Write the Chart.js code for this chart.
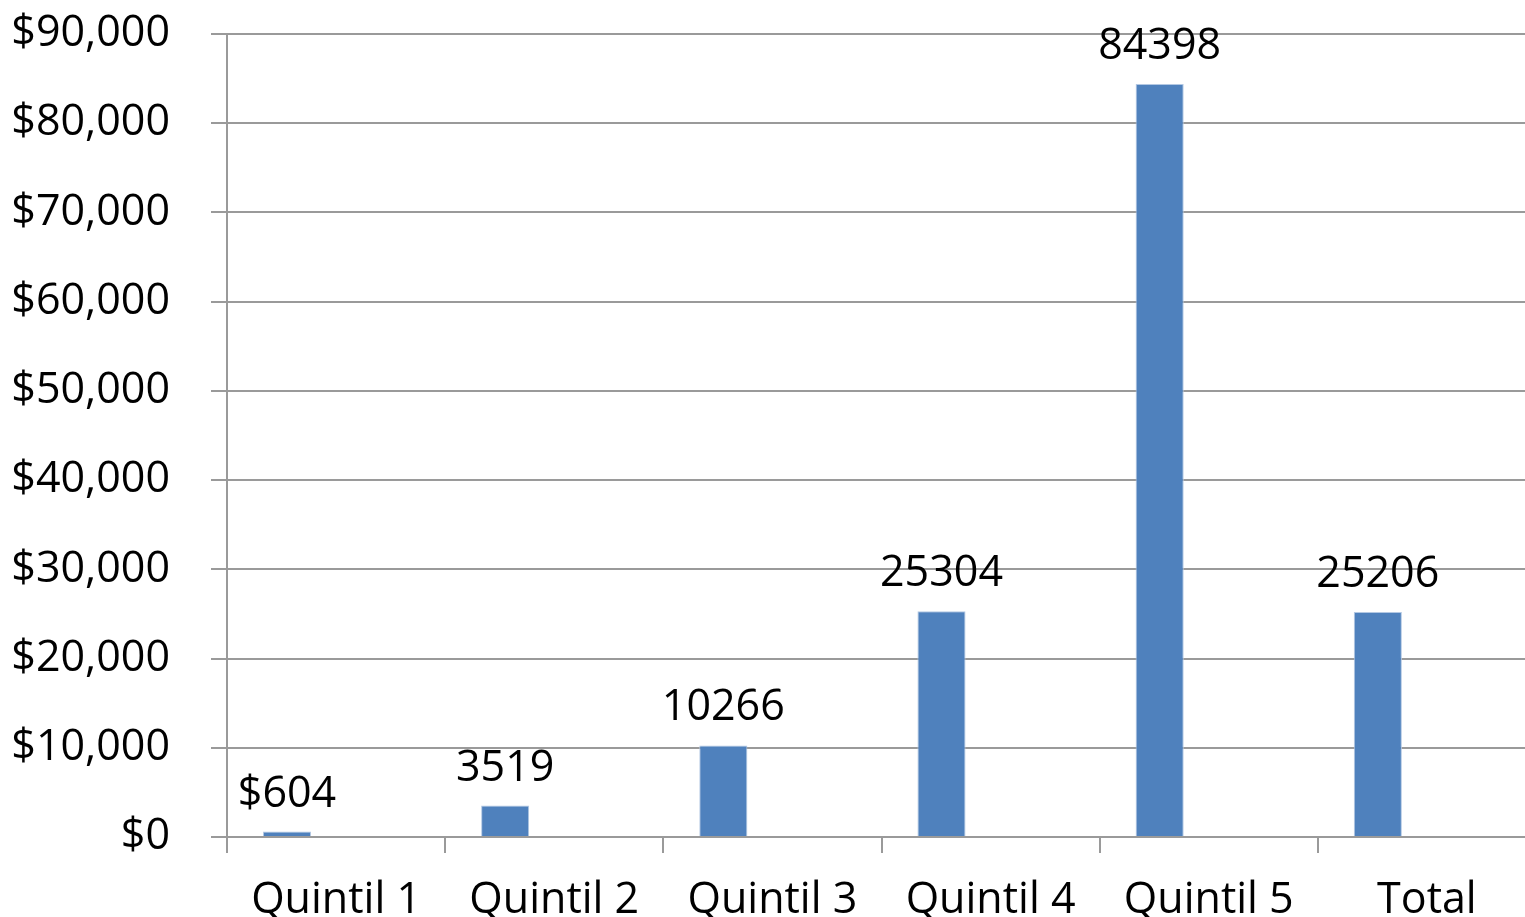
<!DOCTYPE html>
<html>
<head>
<meta charset="utf-8">
<script src="https://cdn.jsdelivr.net/npm/chart.js@4.4.1/dist/chart.umd.min.js"></script>
<style>
  html, body { margin: 0; padding: 0; background: #fff; overflow: hidden; }
  #wrap { width: 1536px; height: 917px; position: relative; }
</style>
</head>
<body>
<div id="wrap"><canvas id="c"></canvas></div>
<script>
const categories = ['Quintil 1', 'Quintil 2', 'Quintil 3', 'Quintil 4', 'Quintil 5', 'Total'];
const values = [604, 3519, 10266, 25304, 84398, 25206];
const valueLabels = ['$604', '3519', '10266', '25304', '84398', '25206'];
// empty second series, keeps the bars to the left of each slot like the original
const spacer = [null, null, null, null, null, null];
const yTicks = [0, 10000, 20000, 30000, 40000, 50000, 60000, 70000, 80000, 90000];

const FONT = "'Open Sans', sans-serif";
const GRID = '#9a9a9a';

// value labels above bars
const barLabels = {
  id: 'barLabels',
  afterDatasetsDraw(chart) {
    const ctx = chart.ctx;
    const meta = chart.getDatasetMeta(0);
    ctx.save();
    ctx.font = '43px ' + FONT;
    ctx.fillStyle = '#000';
    ctx.textAlign = 'center';
    ctx.textBaseline = 'alphabetic';
    meta.data.forEach((bar, i) => {
      ctx.fillText(valueLabels[i], bar.x, bar.y - 25);
    });
    ctx.restore();
  }
};

new Chart(document.getElementById('c'), {
  type: 'bar',
  data: {
    labels: categories,
    datasets: [
      { data: values, backgroundColor: '#4f81bd', borderColor: '#b3c8e3', borderWidth: 1,
        categoryPercentage: 0.9, barPercentage: 0.49 },
      { data: spacer, categoryPercentage: 0.9, barPercentage: 0.49 }
    ]
  },
  options: {
    responsive: true, maintainAspectRatio: false, animation: false,
    layout: { padding: { top: 34, left: 0, right: 0, bottom: 0 } },
    plugins: { legend: { display: false }, tooltip: { enabled: false } },
    scales: {
      x: {
        grid: { offset: true, drawOnChartArea: false, drawTicks: true, tickLength: 16, color: GRID, lineWidth: 2 },
        border: { display: true, color: GRID, width: 2 },
        ticks: { font: { family: FONT, size: 43 }, color: '#000', padding: 22, maxRotation: 0 },
        afterFit: s => { s.height = 80; s.paddingLeft = 0; s.paddingRight = 0; }
      },
      y: {
        min: 0, max: 90000,
        afterBuildTicks: s => { s.ticks = yTicks.map(v => ({ value: v })); },
        grid: { color: GRID, lineWidth: 2, tickLength: 16 },
        border: { display: true, color: GRID, width: 2 },
        ticks: { font: { family: FONT, size: 43 }, color: '#000', padding: 41,
          callback: v => '$' + v.toLocaleString('en-US') },
        afterFit: s => { s.width = 227; s.paddingTop = 0; s.paddingBottom = 0; }
      }
    }
  },
  plugins: [barLabels]
});
</script>
</body>
</html>
